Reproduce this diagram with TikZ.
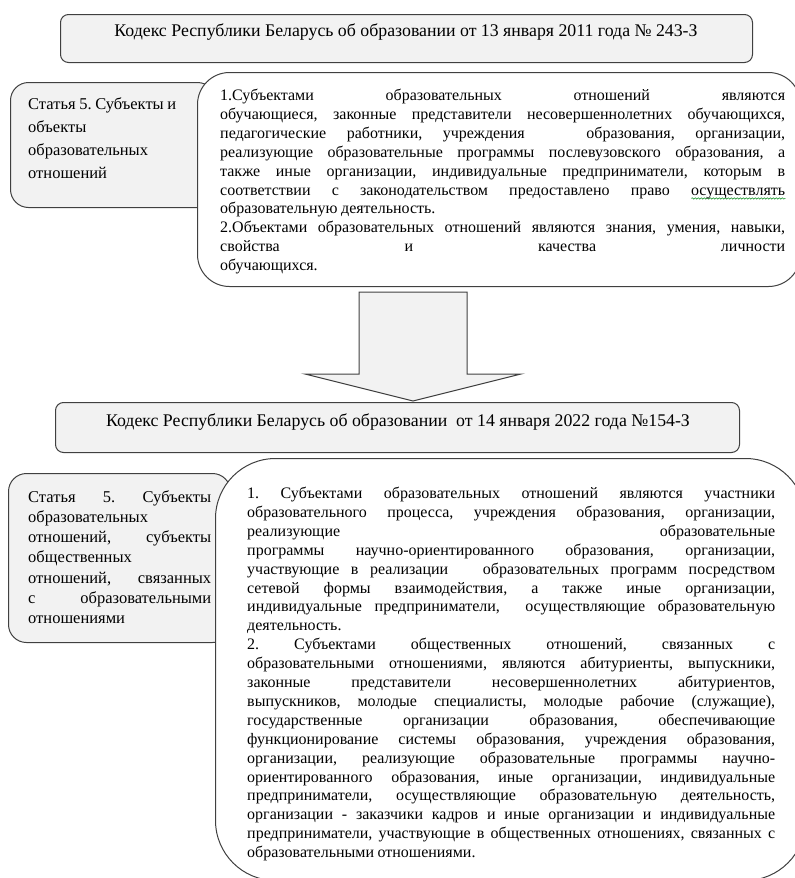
\documentclass[tikz,border=0pt]{standalone}
\usepackage{fontspec}
\setmainfont{Liberation Serif}
\usetikzlibrary{decorations.pathmorphing}
\definecolor{boxfill}{HTML}{F2F2F2}
\definecolor{boxline}{HTML}{404040}
\definecolor{spellgreen}{HTML}{2E9E3E}

% one justified line / one ragged (last) line of a paragraph
\newcommand\jl[1]{\makebox[\linewidth][s]{#1}\par}
\newcommand\rl[1]{\mbox{#1}\par}
% paragraph set-up for the text blocks: size, leading, even word spaces
\newcommand\blockfont[2]{\fontsize{#1}{#2}\selectfont\parindent=0pt\frenchspacing
  \spaceskip=0.22em plus 0.8em minus 0.05em\relax}
% green wavy underline under a word
\newlength\wavelen
\newcommand\greenwave[1]{\settowidth\wavelen{#1}%
  \rlap{\raisebox{-3.4pt}{\tikz[baseline=0pt]\draw[spellgreen, line width=0.6pt,
    decorate, decoration={snake, amplitude=0.7pt, segment length=3pt}]
    (0pt,0pt) -- (\wavelen,0pt);}}#1}

\tikzset{
  panel/.style={draw=boxline, line width=1pt, fill=boxfill, inner sep=0pt, anchor=north west},
  whitepanel/.style={panel, fill=white},
  txt/.style={inner sep=0pt, anchor=base west, text=black},
  title/.style={inner sep=0pt, anchor=base, text=black, font=\fontsize{17.8}{20}\selectfont},
}

\begin{document}
\begin{tikzpicture}[x=1pt, y=-1pt]
\useasboundingbox (0,0) rectangle (795,878);

% ---- 2011 code ----
\node[panel, rounded corners=8pt, minimum width=692pt, minimum height=48pt] (code1) at (60,14) {};
\node[title] (code1t) at (406,36)
  {Кодекс Республики Беларусь об образовании от 13 января 2011 года № 243-З};

\node[panel, rounded corners=18pt, minimum width=205pt, minimum height=125pt] (art1) at (10,82) {};
\node[txt] (art1t) at (28,109) {\begin{minipage}[t]{175pt}\blockfont{16.5}{23.3}
\rl{Статья 5. Субъекты и}
\rl{объекты}
\rl{образовательных}
\rl{отношений}
\end{minipage}};

\node[whitepanel, rounded corners=32pt, minimum width=603pt, minimum height=214pt] (def1) at (197,72) {};
\node[txt] (def1t) at (220,100.5) {\begin{minipage}[t]{565pt}\blockfont{16}{18.9}
\jl{1.Субъектами образовательных отношений являются}
\jl{обучающиеся, законные представители несовершеннолетних обучающихся,}
\jl{педагогические работники, учреждения\ \ \ образования, организации,}
\jl{реализующие образовательные программы послевузовского образования, а}
\jl{также иные организации, индивидуальные предприниматели, которым в}
\jl{соответствии с законодательством предоставлено право \greenwave{осуществлять}}
\rl{образовательную деятельность.}
\jl{2.Объектами образовательных отношений являются знания, умения, навыки,}
\jl{свойства и качества личности}
\rl{обучающихся.}
\end{minipage}};

% ---- transition arrow ----
\draw[draw=boxline, line width=1pt, fill=boxfill, line join=miter]
  (359,292) -- (467,292) -- (467,374) -- (521,374) -- (413,401)
  -- (305,374) -- (359,374) -- cycle;

% ---- 2022 code ----
\node[panel, rounded corners=8pt, minimum width=684pt, minimum height=50pt] (code2) at (55,402) {};
\node[title] (code2t) at (398,426)
  {Кодекс Республики Беларусь об образовании\ \ от 14 января 2022 года №154-З};

\node[panel, rounded corners=18pt, minimum width=222pt, minimum height=169pt] (art2) at (8,473) {};
\node[txt] (art2t) at (28,502) {\begin{minipage}[t]{183pt}\blockfont{16.5}{20.3}
\jl{Статья 5. Субъекты}
\rl{образовательных}
\jl{отношений, субъекты}
\rl{общественных}
\jl{отношений, связанных}
\jl{с образовательными}
\rl{отношениями}
\end{minipage}};

\node[whitepanel, rounded corners=60pt, minimum width=590pt, minimum height=422pt] (def2) at (215,458) {};
\node[txt] (def2t) at (247,498.5) {\begin{minipage}[t]{528pt}\blockfont{16}{18.9}
\jl{1. Субъектами образовательных отношений являются участники}
\jl{образовательного процесса, учреждения образования, организации,}
\jl{реализующие образовательные}
\jl{программы научно-ориентированного образования, организации,}
\jl{участвующие в реализации\ \ \ образовательных программ посредством}
\jl{сетевой формы взаимодействия, а также иные организации,}
\jl{индивидуальные предприниматели,\ \ осуществляющие образовательную}
\rl{деятельность.}
\jl{2. Субъектами общественных отношений, связанных с}
\jl{образовательными отношениями, являются абитуриенты, выпускники,}
\jl{законные представители несовершеннолетних абитуриентов,}
\jl{выпускников, молодые специалисты, молодые рабочие (служащие),}
\jl{государственные организации образования, обеспечивающие}
\jl{функционирование системы образования, учреждения образования,}
\jl{организации, реализующие образовательные программы научно-}
\jl{ориентированного образования, иные организации, индивидуальные}
\jl{предприниматели, осуществляющие образовательную деятельность,}
\jl{организации - заказчики кадров и иные организации и индивидуальные}
\jl{предприниматели, участвующие в общественных отношениях, связанных с}
\rl{образовательными отношениями.}
\end{minipage}};
\end{tikzpicture}
\end{document}
